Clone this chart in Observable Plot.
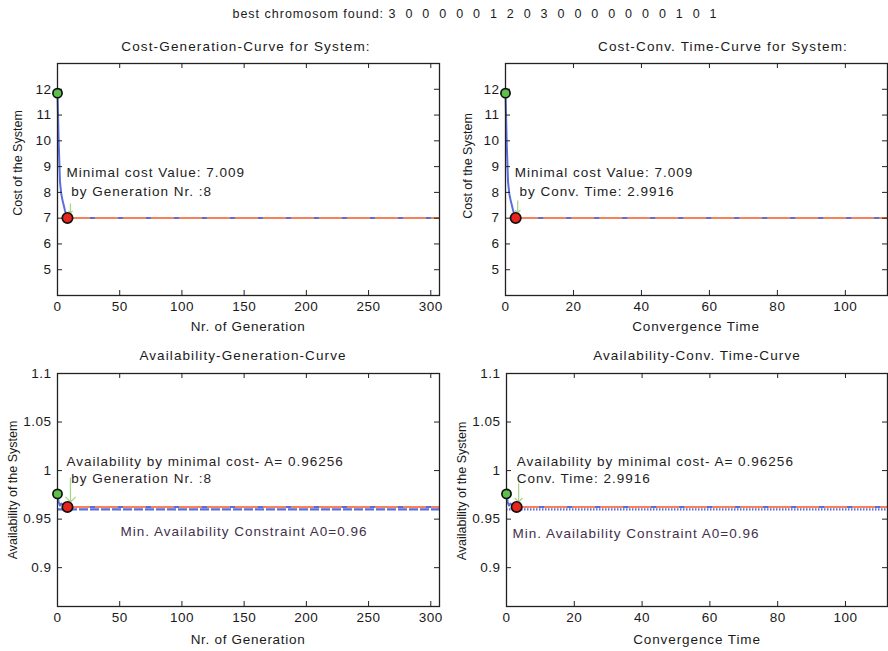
<!DOCTYPE html>
<html><head><meta charset="utf-8">
<script src="https://cdn.jsdelivr.net/npm/d3@7"></script>
<script src="https://cdn.jsdelivr.net/npm/@observablehq/plot@0.6"></script>
<style>
body{margin:0;background:#fff;}
#root{position:relative;width:888px;height:651px;overflow:hidden;font-family:"Liberation Sans",Arial,sans-serif;color:#1a1a1a;}
.t{position:absolute;white-space:pre;transform:translate(-50%,-50%);font-size:13.5px;line-height:1;letter-spacing:1.1px;}
.r{position:absolute;white-space:pre;transform:translate(-50%,-50%) rotate(-90deg);font-size:12.5px;line-height:1;}
</style></head><body><div id="root"></div>
<script>
// ---- data ----
const bestChromosome = [3,0,0,0,0,0,1,2,0,3,0,0,0,0,0,0,0,1,0,1];
const generations = [0,1,2,3,4,5,6,7,8,300];
const convTimes   = [0,0.37,0.75,1.12,1.5,1.87,2.24,2.62,2.9916,112.4];
const costValues  = [11.85,9.9,8.4,7.95,7.7,7.5,7.3,7.12,7.009,7.009];
const availValues = [0.976,0.967,0.964,0.966,0.965,0.964,0.963,0.9627,0.96256,0.96256];
const minCost = 7.009, minGen = 8, minTime = 2.9916;
const availAtMin = 0.96256, availConstraint = 0.96;
const genTicks = [0,50,100,150,200,250,300];
const timeTicks = [0,20,40,60,80,100];
const costTicks = [5,6,7,8,9,10,11,12];
const availTicks = [0.9,0.95,1,1.05,1.1];
const genDomain = [0,307], timeDomain = [0,112.4];
const costDomain = [4,13], availDomain = [0.86,1.1];

const BLUE = "#5b6fdc", ORANGE = "#f7815a", GREEN = "#5cc04a", RED = "#e8241c", ARROW = "#a9d68c";
const FONT = "Liberation Sans, Arial, sans-serif";
const root = document.getElementById("root");

function label(text, cx, cy, cls = "t", size, spacing) {
  const d = document.createElement("div");
  d.className = cls; d.textContent = text;
  d.style.left = cx + "px"; d.style.top = cy + "px";
  if (size) d.style.fontSize = size + "px";
  if (spacing != null) d.style.letterSpacing = spacing + "px";
  root.append(d);
}

function panel({left, top, width, height, ml, mr, mt, mb, xDomain, yDomain, xTicks, yTicks, marks}) {
  const iw = width - ml - mr, ih = height - mt - mb;
  const svg = Plot.plot({
    width, height, marginLeft: ml, marginRight: mr, marginTop: mt, marginBottom: mb,
    x: {domain: xDomain}, y: {domain: yDomain},
    style: {fontFamily: FONT, fontSize: "13.5px", color: "#1a1a1a", background: "transparent", overflow: "visible"},
    marks: [
      ...marks.under,
      Plot.frame({stroke: "#222", strokeWidth: 1.3}),
      Plot.tickX(xTicks, {x: d => d, insetTop: ih - 5, stroke: "#222"}),
      Plot.tickX(xTicks, {x: d => d, insetBottom: ih - 5, stroke: "#222"}),
      Plot.tickY(yTicks, {y: d => d, insetRight: iw - 5, stroke: "#222"}),
      Plot.tickY(yTicks, {y: d => d, insetLeft: iw - 5, stroke: "#222"}),
      Plot.axisX(xTicks, {tickSize: 0, tickPadding: 6, label: null, tickFormat: d => String(d)}),
      Plot.axisY(yTicks, {tickSize: 0, tickPadding: 6, label: null, tickFormat: d => String(d)}),
      ...marks.over
    ]
  });
  svg.querySelectorAll('g[aria-label="text"] text').forEach(t => t.style.letterSpacing = "1.0px");
  svg.querySelectorAll('g[aria-label$="tick label"] text').forEach(t => t.style.letterSpacing = "0.5px");
  svg.style.position = "absolute"; svg.style.left = left + "px"; svg.style.top = top + "px";
  root.append(svg);
}

const costByGen = generations.map((g, i) => ({x: g, y: costValues[i]}));
const costByTime = convTimes.map((t, i) => ({x: t, y: costValues[i]}));
const availByGen = generations.map((g, i) => ({x: g, y: availValues[i]}));
const availByTime = convTimes.map((t, i) => ({x: t, y: availValues[i]}));

function markerMarks(series, minX, minY, arrowLen, arrowDx) {
  return [
    Plot.vector([{x: minX, y: minY}], {x: "x", y: "y", rotate: 180, length: arrowLen, anchor: "end", dx: arrowDx, dy: -5, stroke: ARROW, strokeWidth: 1.3}),
    Plot.dot([series[0]], {x: "x", y: "y", r: 4.6, fill: GREEN, stroke: "#111", strokeWidth: 1.7}),
    Plot.dot([{x: minX, y: minY}], {x: "x", y: "y", r: 5.2, fill: RED, stroke: "#111", strokeWidth: 1.7})
  ];
}

// Top-left: cost vs generation
panel({
  left: 0, top: 40, width: 445, height: 300, ml: 57, mr: 6, mt: 23, mb: 45,
  xDomain: genDomain, yDomain: costDomain, xTicks: genTicks, yTicks: costTicks,
  marks: {
    under: [
      Plot.line(costByGen, {x: "x", y: "y", stroke: BLUE, strokeWidth: 2}),
      Plot.ruleY([minCost], {x1: minGen, x2: genDomain[1], stroke: ORANGE, strokeWidth: 2, strokeDasharray: "23,5"})
    ],
    over: [
      ...markerMarks(costByGen, minGen, minCost, 9, 3),
      Plot.text([{x: minGen, y: minCost}], {x: "x", y: "y", text: () => `Minimal cost Value: ${minCost}\n\u00a0by Generation Nr. :${minGen}`,
        textAnchor: "start", lineAnchor: "middle", lineHeight: 1.42, dx: -1, dy: -37.5, fontSize: 13.5, fill: "#222"})
    ]
  }
});

// Top-right: cost vs convergence time
panel({
  left: 445, top: 40, width: 443, height: 300, ml: 60, mr: 1, mt: 23, mb: 45,
  xDomain: timeDomain, yDomain: costDomain, xTicks: timeTicks, yTicks: costTicks,
  marks: {
    under: [
      Plot.line(costByTime, {x: "x", y: "y", stroke: BLUE, strokeWidth: 2}),
      Plot.ruleY([minCost], {x1: minTime, x2: timeDomain[1], stroke: ORANGE, strokeWidth: 2, strokeDasharray: "23,5"})
    ],
    over: [
      ...markerMarks(costByTime, minTime, minCost, 12, 2),
      Plot.text([{x: minTime, y: minCost}], {x: "x", y: "y", text: () => `Minimal cost Value: ${minCost}\n\u00a0by Conv. Time: ${minTime}`,
        textAnchor: "start", lineAnchor: "middle", lineHeight: 1.42, dx: -1, dy: -37.5, fontSize: 13.5, fill: "#222"})
    ]
  }
});

// Bottom-left: availability vs generation
panel({
  left: 0, top: 350, width: 445, height: 301, ml: 57, mr: 6, mt: 23, mb: 45,
  xDomain: genDomain, yDomain: availDomain, xTicks: genTicks, yTicks: availTicks,
  marks: {
    under: [
      Plot.ruleY([availConstraint], {stroke: BLUE, strokeWidth: 2.2, strokeDasharray: "9,2"}),
      Plot.line(availByGen, {x: "x", y: "y", stroke: BLUE, strokeWidth: 2}),
      Plot.ruleY([availAtMin], {x1: minGen, x2: genDomain[1], stroke: ORANGE, strokeWidth: 2, strokeDasharray: "23,5"})
    ],
    over: [
      ...markerMarks(availByGen, minGen, availAtMin, 24, 3),
      Plot.text([{x: minGen, y: availAtMin}], {x: "x", y: "y", text: () => `Availability by minimal cost- A= ${availAtMin}\n\u00a0by Generation Nr. :${minGen}`,
        textAnchor: "start", lineAnchor: "middle", lineHeight: 1.27, dx: -1, dy: -37.5, fontSize: 13.5, fill: "#2a2226"}),
      Plot.text([availConstraint], {y: d => d, frameAnchor: "left", text: d => `Min. Availability Constraint A0=${d}`,
        textAnchor: "start", dx: 63, dy: 22, fontSize: 13.5, fill: "#43304c"})
    ]
  }
});

// Bottom-right: availability vs convergence time
panel({
  left: 445, top: 350, width: 443, height: 301, ml: 61, mr: 1, mt: 23, mb: 45,
  xDomain: timeDomain, yDomain: availDomain, xTicks: timeTicks, yTicks: availTicks,
  marks: {
    under: [
      Plot.ruleY([availConstraint], {stroke: BLUE, strokeWidth: 2.2, strokeDasharray: "1.5,1.5"}),
      Plot.line(availByTime, {x: "x", y: "y", stroke: BLUE, strokeWidth: 2}),
      Plot.ruleY([availAtMin], {x1: minTime, x2: timeDomain[1], stroke: ORANGE, strokeWidth: 2, strokeDasharray: "23,5"})
    ],
    over: [
      ...markerMarks(availByTime, minTime, availAtMin, 18, 2),
      Plot.text([{x: minTime, y: availAtMin}], {x: "x", y: "y", text: () => `Availability by minimal cost- A= ${availAtMin}\nConv. Time: ${minTime}`,
        textAnchor: "start", lineAnchor: "middle", lineHeight: 1.27, dx: 0, dy: -37.5, fontSize: 13.5, fill: "#1e1e1e"}),
      Plot.text([availConstraint], {y: d => d, frameAnchor: "left", text: d => `Min. Availability Constraint A0=${d}`,
        textAnchor: "start", dx: 6, dy: 24, fontSize: 13.5, fill: "#43304c"})
    ]
  }
});

// ---- titles and axis labels ----
label("best chromosom found: " + bestChromosome.join("  "), 475, 14, "t", 12.5, 1.0);
label("Cost-Generation-Curve for System:", 246, 47, "t", 13.5, 1.15);
label("Cost-Conv. Time-Curve for System:", 723, 47, "t", 13.5, 1.15);
label("Availability-Generation-Curve", 243, 356, "t", 13.5, 1.1);
label("Availability-Conv. Time-Curve", 697, 356, "t", 13.5, 1.1);
label("Nr. of Generation", 248, 327, "t", 13.5, 0.7);
label("Convergence Time", 696, 327, "t", 13.5, 0.9);
label("Nr. of Generation", 248, 640, "t", 13.5, 0.7);
label("Convergence Time", 697, 640, "t", 13.5, 0.9);
label("Cost of the System", 18, 163, "r");
label("Cost of the System", 468, 166, "r");
label("Availability of the System", 13, 490, "r");
label("Availability of the System", 462, 491, "r");
</script></body></html>
